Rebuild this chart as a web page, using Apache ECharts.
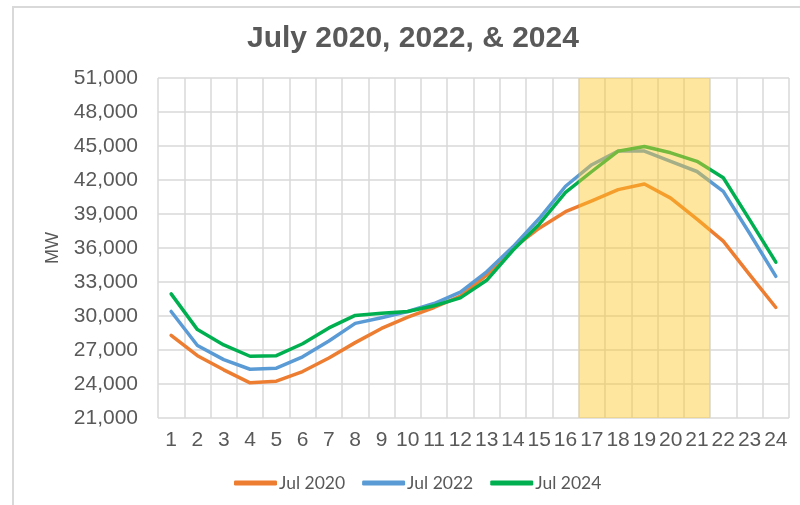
<!DOCTYPE html>
<html>
<head>
  <meta charset="utf-8">
  <title>July 2020, 2022, & 2024</title>
  <script src="https://cdn.jsdelivr.net/npm/echarts@6/dist/echarts.min.js"></script>
  <style>
    html, body { margin: 0; padding: 0; background: #fff; }
  </style>
</head>
<body>
<div id="main" style="width:800px;height:505px;"></div>

<script type="text/javascript">
// hour of day
var hours = ['1','2','3','4','5','6','7','8','9','10','11','12',
             '13','14','15','16','17','18','19','20','21','22','23','24'];

// MW
var jul2020 = [28300, 26500, 25250, 24100, 24250, 25100, 26300, 27650, 28900, 29900, 30750, 31750,
               33600, 36000, 37750, 39200, 40150, 41150, 41650, 40400, 38550, 36600, 33650, 30750];
var jul2022 = [30400, 27400, 26150, 25300, 25400, 26400, 27800, 29350, 29850, 30400, 31100, 32100,
               33900, 36100, 38600, 41450, 43350, 44550, 44550, 43650, 42750, 41000, 37300, 33500];
var jul2024 = [31950, 28800, 27450, 26450, 26500, 27550, 28950, 30050, 30250, 30400, 30900, 31600,
               33150, 35800, 38100, 40900, 42750, 44550, 44950, 44400, 43650, 42200, 38500, 34750];

// peak hours band (17 - 21)
var peakHours = ['17', '18', '19', '20', '21'];
var yMin = 21000, yMax = 51000, yStep = 3000;

var grey = '#595959';
var peakData = hours.map(function (h) {
  return peakHours.indexOf(h) >= 0 ? yMax : '-';
});

var lineSeries = function (name, data, color) {
  return {
    name: name,
    type: 'line',
    data: data,
    showSymbol: false,
    symbol: 'none',
    z: 2,
    lineStyle: { color: color, width: 3.5, cap: 'round', join: 'round' },
    itemStyle: { color: color }
  };
};

var myChart = echarts.init(document.getElementById('main'));

var option = {
  animation: false,
  backgroundColor: '#fff',
  graphic: [{
    type: 'rect',
    shape: { x: 13, y: 7, width: 820, height: 520 },
    style: { fill: 'none', stroke: '#d9d9d9', lineWidth: 2 },
    silent: true
  }],
  title: {
    text: 'July 2020, 2022, & 2024',
    left: 247,
    top: 24,
    padding: 0,
    textStyle: {
      color: grey,
      fontSize: 30,
      fontWeight: 'bold',
      fontFamily: 'Liberation Sans, Arial, sans-serif'
    }
  },
  legend: {
    data: ['Jul 2020', 'Jul 2022', 'Jul 2024'],
    bottom: 8,
    left: 229,
    icon: 'roundRect',
    itemWidth: 43,
    itemHeight: 5,
    itemGap: 17,
    textStyle: { color: grey, fontSize: 17.5, fontFamily: 'Lato, sans-serif', padding: [0, 0, 0, -3] }
  },
  grid: { left: 158, right: 11, top: 78, bottom: 87 },
  xAxis: {
    type: 'category',
    data: hours,
    boundaryGap: true,
    axisLine: { show: false },
    axisTick: { show: false },
    axisLabel: {
      interval: 0,
      color: grey,
      fontSize: 21,
      margin: 12,
      fontFamily: 'Liberation Sans, Arial, sans-serif'
    },
    splitLine: { show: true, interval: 0, lineStyle: { color: '#d9d9d9', width: 1.5 } }
  },
  yAxis: {
    type: 'value',
    min: yMin,
    max: yMax,
    interval: yStep,
    name: 'MW',
    nameLocation: 'middle',
    nameRotate: 90,
    nameGap: 96,
    nameTextStyle: { color: grey, fontSize: 18, fontFamily: 'Liberation Sans, Arial, sans-serif' },
    axisLine: { show: false },
    axisTick: { show: false },
    axisLabel: {
      color: grey,
      fontSize: 21,
      margin: 20,
      fontFamily: 'Liberation Sans, Arial, sans-serif',
      formatter: function (v) { return v.toLocaleString('en-US'); }
    },
    splitLine: { show: true, lineStyle: { color: '#d9d9d9', width: 1.5 } }
  },
  series: [
    lineSeries('Jul 2020', jul2020, '#ed7d31'),
    lineSeries('Jul 2022', jul2022, '#5b9bd5'),
    lineSeries('Jul 2024', jul2024, '#00b050'),
    {
      name: 'peak',
      type: 'bar',
      data: peakData,
      barWidth: '100%',
      barCategoryGap: '0%',
      z: 5,
      silent: true,
      itemStyle: { color: 'rgba(255, 200, 40, 0.45)' }
    }
  ]
};

myChart.setOption(option);
</script>
</body>
</html>
